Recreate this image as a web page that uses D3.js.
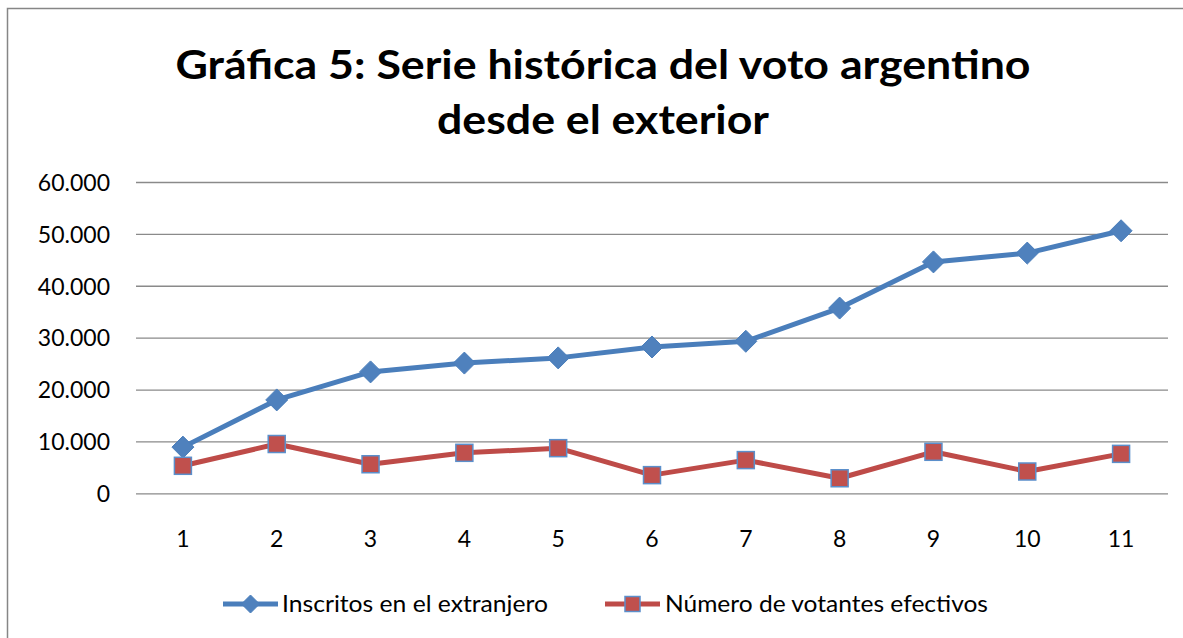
<!DOCTYPE html>
<html>
<head>
<meta charset="utf-8">
<script src="https://cdn.jsdelivr.net/npm/d3@7"></script>
<style>
  html, body { margin: 0; padding: 0; background: #ffffff; }
  svg { display: block; }
</style>
</head>
<body>
<svg id="chart" width="1183" height="638"></svg>
<script>
// ---- Data ----
const categories = ["1", "2", "3", "4", "5", "6", "7", "8", "9", "10", "11"];
const inscritos = [8900, 18000, 23400, 25100, 26100, 28200, 29300, 35700, 44600, 46300, 50600];
const votantes = [5300, 9500, 5600, 7800, 8700, 3500, 6400, 2900, 8000, 4200, 7600];
const yTicks = [0, 10000, 20000, 30000, 40000, 50000, 60000];
const yTickLabels = ["0", "10.000", "20.000", "30.000", "40.000", "50.000", "60.000"];
const seriesNames = ["Inscritos en el extranjero", "Número de votantes efectivos"];
const titleLines = ["Gráfica 5: Serie histórica del voto argentino", "desde el exterior"];

// ---- Layout ----
const svg = d3.select("#chart");
const plot = { left: 136, right: 1168, top: 182, bottom: 493.3 };
const blueLine = "#4A7EBB", blueFill = "#4F81BD";
const redLine = "#BE4B48", redFill = "#C0504D";
const font = "Lato, 'Open Sans', sans-serif";

// outer chart frame (extends beyond view on right/bottom)
svg.append("rect")
  .attr("x", 7.5).attr("y", 8.5)
  .attr("width", 1300).attr("height", 800)
  .attr("fill", "#fff").attr("stroke", "#868686").attr("stroke-width", 1.5);

// title
const titleBaselines = [79, 134];
const titleWidths = [855, 332];
svg.selectAll("text.title").data(titleLines).enter().append("text")
  .attr("class", "title")
  .attr("x", 603)
  .attr("y", (d, i) => titleBaselines[i])
  .attr("text-anchor", "middle")
  .attr("font-family", font)
  .attr("font-weight", "bold")
  .attr("font-size", 41)
  .attr("textLength", (d, i) => titleWidths[i])
  .attr("lengthAdjust", "spacingAndGlyphs")
  .attr("fill", "#000")
  .text(d => d);

// scales
const x = d3.scaleBand().domain(categories).range([plot.left, plot.right]).paddingInner(0).paddingOuter(0);
const cx = c => x(c) + x.bandwidth() / 2;
const y = d3.scaleLinear().domain([0, 60000]).range([plot.bottom, plot.top]);

// y axis with gridlines
const yAxis = d3.axisLeft(y)
  .tickValues(yTicks)
  .tickSize(-(plot.right - plot.left))
  .tickPadding(26)
  .tickFormat((d, i) => yTickLabels[i]);
const gy = svg.append("g").attr("transform", `translate(${plot.left},0)`).call(yAxis);
gy.select(".domain").remove();
gy.selectAll(".tick line").attr("stroke", "#8A8A8A").attr("stroke-width", 1.3);
gy.selectAll(".tick text")
  .attr("font-family", font).attr("font-size", 23).attr("fill", "#000")
  .attr("dy", "0.36em");

// x axis
const xAxis = d3.axisBottom(x).tickSize(0).tickPadding(0);
const gx = svg.append("g").attr("transform", `translate(0,${plot.bottom})`).call(xAxis);
gx.select(".domain").remove();
gx.selectAll(".tick text")
  .attr("font-family", font).attr("font-size", 23).attr("fill", "#000")
  .attr("y", 45).attr("dy", "0.36em");

// lines
const line = d3.line().x((d, i) => cx(categories[i])).y(d => y(d));
svg.append("path").datum(inscritos)
  .attr("d", line).attr("fill", "none")
  .attr("stroke", blueLine).attr("stroke-width", 5).attr("stroke-linejoin", "round").attr("stroke-linecap", "round");
svg.append("path").datum(votantes)
  .attr("d", line).attr("fill", "none")
  .attr("stroke", redLine).attr("stroke-width", 5).attr("stroke-linejoin", "round").attr("stroke-linecap", "round");

// markers
function drawDiamond(g, px, py, r) {
  g.append("path")
    .attr("d", `M${px},${py - r}L${px + r},${py}L${px},${py + r}L${px - r},${py}Z`)
    .attr("fill", blueFill).attr("stroke", blueLine).attr("stroke-width", 1);
}
function drawSquare(g, px, py, s) {
  g.append("rect")
    .attr("x", px - s / 2).attr("y", py - s / 2)
    .attr("width", s).attr("height", s)
    .attr("fill", redFill).attr("stroke", "#5B8FCB").attr("stroke-width", 1.5);
}
const gm = svg.append("g");
inscritos.forEach((v, i) => drawDiamond(gm, cx(categories[i]), y(v), 11));
votantes.forEach((v, i) => drawSquare(gm, cx(categories[i]), y(v), 17));

// legend
const legY = 604;
const legItems = [
  { name: seriesNames[0], x0: 223, x1: 278, textX: 282, textW: 266, color: blueLine, type: "diamond" },
  { name: seriesNames[1], x0: 605, x1: 660, textX: 665, textW: 323, color: redLine, type: "square" }
];
const gl = svg.append("g");
legItems.forEach(it => {
  gl.append("line").attr("x1", it.x0).attr("x2", it.x1).attr("y1", legY).attr("y2", legY)
    .attr("stroke", it.color).attr("stroke-width", 5);
  const mx = (it.x0 + it.x1) / 2;
  if (it.type === "diamond") drawDiamond(gl, mx, legY, 9);
  else drawSquare(gl, mx, legY, 15);
  gl.append("text").attr("x", it.textX).attr("y", legY).attr("dy", "0.36em")
    .attr("font-family", font).attr("font-size", 23).attr("fill", "#000")
    .attr("textLength", it.textW).attr("lengthAdjust", "spacingAndGlyphs")
    .text(it.name);
});
</script>
</body>
</html>
